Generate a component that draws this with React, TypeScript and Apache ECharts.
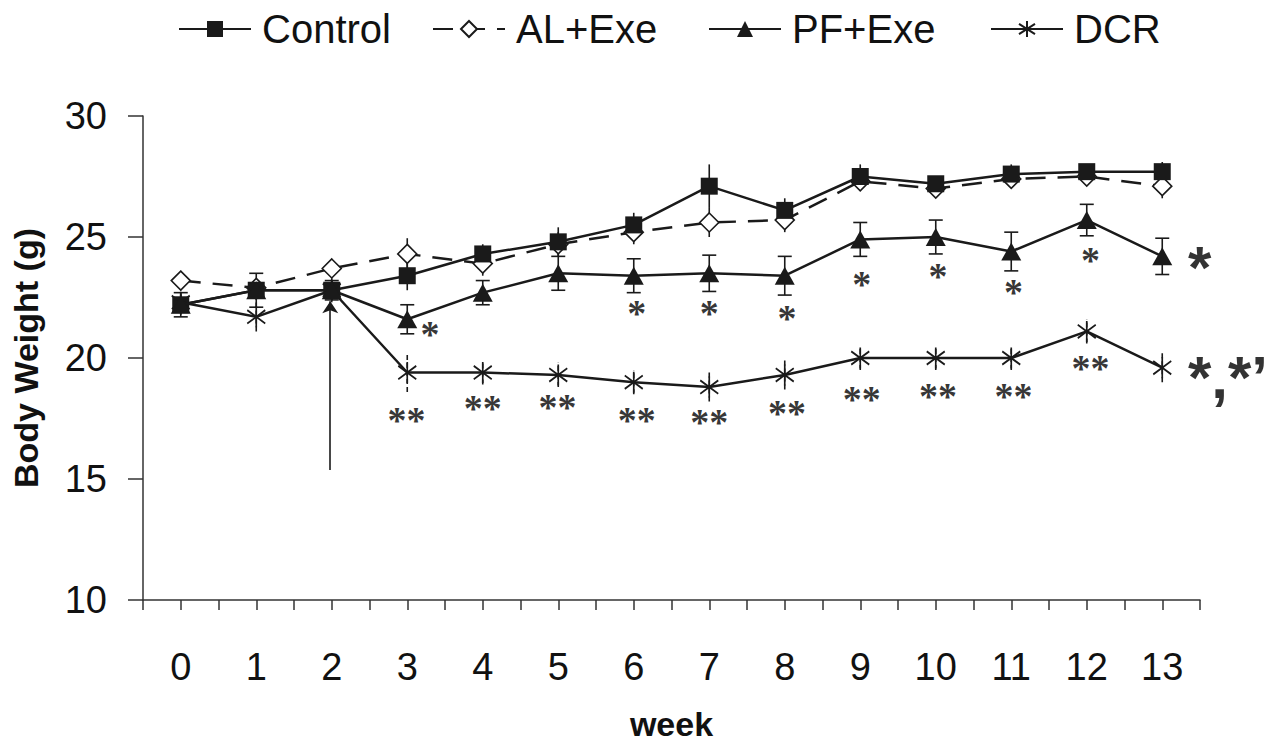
import React, { useEffect, useRef } from 'react';
import * as echarts from 'echarts';

const weeks = [0, 1, 2, 3, 4, 5, 6, 7, 8, 9, 10, 11, 12, 13];
const seriesNames = ['Control', 'AL+Exe', 'PF+Exe', 'DCR'];

const control = [22.2, 22.8, 22.8, 23.4, 24.3, 24.8, 25.5, 27.1, 26.1, 27.5, 27.2, 27.6, 27.7, 27.7];
const controlErr = [0.4, 0.4, 0.5, 0.6, 0.4, 0.6, 0.5, 0.9, 0.5, 0.5, 0.3, 0.4, 0.3, 0.4];

const alExe = [23.2, 22.9, 23.7, 24.3, 23.9, 24.7, 25.2, 25.6, 25.7, 27.3, 27.0, 27.4, 27.5, 27.1];
const alExeErr = [0.4, 0.3, 0.4, 0.65, 0.5, 0.5, 0.5, 0.6, 0.5, 0.4, 0.3, 0.3, 0.3, 0.5];

const pfExe = [22.2, 22.8, 22.8, 21.6, 22.7, 23.5, 23.4, 23.5, 23.4, 24.9, 25.0, 24.4, 25.7, 24.2];
const pfExeErr = [0.5, 0.7, 0.4, 0.6, 0.5, 0.7, 0.7, 0.75, 0.8, 0.7, 0.7, 0.8, 0.65, 0.75];

const dcr = [22.3, 21.7, 22.8, 19.4, 19.4, 19.3, 19.0, 18.8, 19.3, 20.0, 20.0, 20.0, 21.1, 19.6];
const dcrErr = [0.5, 0.6, 0.4, 0.8, 0.5, 0.5, 0.5, 0.6, 0.6, 0.5, 0.5, 0.5, 0.5, 0.6];

// significance marks (glyph centres, data units)
const pfStarX = [3.3, 6.04, 7.0, 8.03, 9.02, 10.03, 11.03, 12.05];
const pfStarY = [21.2, 22.07, 22.07, 21.86, 23.26, 23.6, 22.93, 24.26];
const dcrStarX = [2.99, 4.0, 4.99, 6.04, 7.0, 8.03, 9.02, 10.03, 11.03, 12.05];
const dcrStarY = [17.64, 18.14, 18.18, 17.64, 17.56, 17.93, 18.5, 18.64, 18.64, 19.8];
const sideMarkX = [13.34, 13.34];
const sideMarkY = [23.75, 19.21];
const sideMarkText = ['*', '*,*\u2019'];

// arrow marking start of treatment
const arrowFrom = [1.98, 15.37];
const arrowTo = [1.98, 22.35];

// legend item left edges (px)
const legendLefts = [178, 432, 708, 990];

const FONT = 'Liberation Sans, Arial, sans-serif';
const SERIF = 'Liberation Serif, Times New Roman, serif';
const INK = '#1a1a1a';
const ASTERISK = 'path://M10,0L10,22M1,4L19,18M1,18L19,4';

function errSeries(name: string, vals: number[], errs: number[], cap: number, dashed: boolean, z: number) {
  return {
    type: 'custom',
    name: name + ' err',
    z,
    silent: true,
    data: weeks.map((w, i) => [w, vals[i] - errs[i], vals[i] + errs[i]]),
    encode: { x: 0, y: [1, 2] },
    renderItem: (params: any, api: any) => {
      const x = api.value(0);
      const lo = api.coord([x, api.value(1)]);
      const hi = api.coord([x, api.value(2)]);
      const st: any = { stroke: INK, lineWidth: 1.6 };
      if (dashed) st.lineDash = [5, 3];
      const children: any[] = [
        { type: 'line', shape: { x1: lo[0], y1: lo[1], x2: hi[0], y2: hi[1] }, style: st },
      ];
      if (cap > 0) {
        children.push({ type: 'line', shape: { x1: lo[0] - cap, y1: lo[1], x2: lo[0] + cap, y2: lo[1] }, style: { stroke: INK, lineWidth: 1.6 } });
        children.push({ type: 'line', shape: { x1: hi[0] - cap, y1: hi[1], x2: hi[0] + cap, y2: hi[1] }, style: { stroke: INK, lineWidth: 1.6 } });
      }
      return { type: 'group', children };
    },
  };
}

function textSeries(name: string, xs: number[], ys: number[], texts: string[], style: any, align: string, offsetY: number) {
  return {
    type: 'scatter',
    name,
    silent: true,
    z: 20,
    symbol: 'circle',
    symbolSize: 1,
    itemStyle: { color: 'rgba(0,0,0,0)' },
    data: xs.map((x, i) => ({ value: [x, ys[i]], name: texts[i] })),
    label: {
      show: true,
      position: 'inside',
      formatter: (p: any) => p.name,
      align,
      verticalAlign: 'middle',
      offset: [0, offsetY],
      ...style,
    },
  };
}

export default function App() {
  const ref = useRef<HTMLDivElement>(null);
  useEffect(() => {
    if (!ref.current) return;
    const chart = echarts.init(ref.current, undefined, { renderer: 'svg' });
    const pair = (arr: number[]) => weeks.map((w, i) => [w, arr[i]]);
    const option: any = {
      animation: false,
      backgroundColor: '#ffffff',
      legend: seriesNames.map((n, i) => ({
        data: [n],
        left: legendLefts[i],
        top: 9,
        padding: 0,
        itemWidth: 72,
        itemHeight: 20,
        textStyle: { fontSize: 40, fontFamily: FONT, color: '#111', padding: [0, 0, 0, 6] },
      })),
      grid: { left: 143, right: 77, top: 116, bottom: 144, containLabel: false, outerBoundsMode: 'none' },
      xAxis: {
        type: 'value',
        min: -0.5,
        max: 13.5,
        interval: 0.5,
        axisLine: { show: true, onZero: false, lineStyle: { color: '#333', width: 1.5 } },
        axisTick: { show: true, inside: false, length: 10, lineStyle: { color: '#333', width: 1.5 } },
        axisLabel: {
          margin: 48,
          fontSize: 38,
          fontFamily: FONT,
          color: '#111',
          formatter: (v: number) => (Math.abs(v - Math.round(v)) < 1e-6 && v > -0.1 ? String(Math.round(v)) : ''),
        },
        splitLine: { show: false },
        name: 'week',
        nameLocation: 'middle',
        nameGap: 107,
        nameTextStyle: { fontSize: 34, fontWeight: 'bold', fontFamily: FONT, color: '#111' },
      },
      yAxis: {
        type: 'value',
        min: 10,
        max: 30,
        interval: 5,
        axisLine: { show: true, onZero: false, lineStyle: { color: '#333', width: 1.5 } },
        axisTick: { show: true, inside: false, length: 15, lineStyle: { color: '#333', width: 1.5 } },
        axisLabel: { margin: 36, fontSize: 38, fontFamily: FONT, color: '#111' },
        splitLine: { show: false },
        name: 'Body Weight (g)',
        nameLocation: 'middle',
        nameGap: 100,
        nameRotate: 90,
        nameTextStyle: { fontSize: 34, fontWeight: 'bold', fontFamily: FONT, color: '#111' },
      },
      series: [
        errSeries('AL+Exe', alExe, alExeErr, 0, false, 2),
        errSeries('Control', control, controlErr, 0, false, 3),
        errSeries('DCR', dcr, dcrErr, 0, true, 4),
        errSeries('PF+Exe', pfExe, pfExeErr, 7, false, 5),
        {
          type: 'line',
          name: 'AL+Exe',
          z: 6,
          data: pair(alExe),
          symbol: 'diamond',
          symbolSize: 19,
          lineStyle: { color: INK, width: 2.5, type: [20, 12] },
          itemStyle: { color: '#ffffff', borderColor: INK, borderWidth: 1.6 },
        },
        {
          type: 'line',
          name: 'Control',
          z: 7,
          data: pair(control),
          symbol: 'rect',
          symbolSize: 17,
          lineStyle: { color: INK, width: 2.5 },
          itemStyle: { color: INK, borderColor: INK, borderWidth: 0 },
        },
        {
          type: 'line',
          name: 'DCR',
          z: 8,
          data: pair(dcr),
          symbol: ASTERISK,
          symbolSize: [18, 21],
          lineStyle: { color: INK, width: 2.5 },
          itemStyle: { color: 'rgba(0,0,0,0)', borderColor: INK, borderWidth: 1.8 },
        },
        {
          type: 'line',
          name: 'PF+Exe',
          z: 9,
          data: pair(pfExe),
          symbol: 'triangle',
          symbolSize: [20, 18],
          lineStyle: { color: INK, width: 2.5 },
          itemStyle: { color: INK, borderColor: INK, borderWidth: 0 },
        },
        {
          type: 'lines',
          name: 'arrow',
          coordinateSystem: 'cartesian2d',
          silent: true,
          z: 12,
          symbol: ['none', 'arrow'],
          symbolSize: 12,
          data: [{ coords: [arrowFrom, arrowTo] }],
          lineStyle: { color: INK, width: 1.6, curveness: 0, opacity: 1 },
        },
        textSeries('pf marks', pfStarX, pfStarY, pfStarX.map(() => '*'),
          { fontSize: 38, fontWeight: 'bold', fontFamily: SERIF, color: '#000' }, 'center', 5),
        textSeries('dcr marks', dcrStarX, dcrStarY, dcrStarX.map(() => '**'),
          { fontSize: 38, fontWeight: 'bold', fontFamily: SERIF, color: '#000' }, 'center', 5),
        textSeries('side marks', sideMarkX, sideMarkY, sideMarkText,
          { fontSize: 60, fontWeight: 'bold', fontFamily: FONT, color: '#000' }, 'left', 0),
      ],
    };
    chart.setOption(option);
    return () => chart.dispose();
  }, []);
  return (
    <div
      ref={ref}
      style={{ position: 'fixed', left: 0, top: 0, width: 1277, height: 744, background: '#fff' }}
    />
  );
}
